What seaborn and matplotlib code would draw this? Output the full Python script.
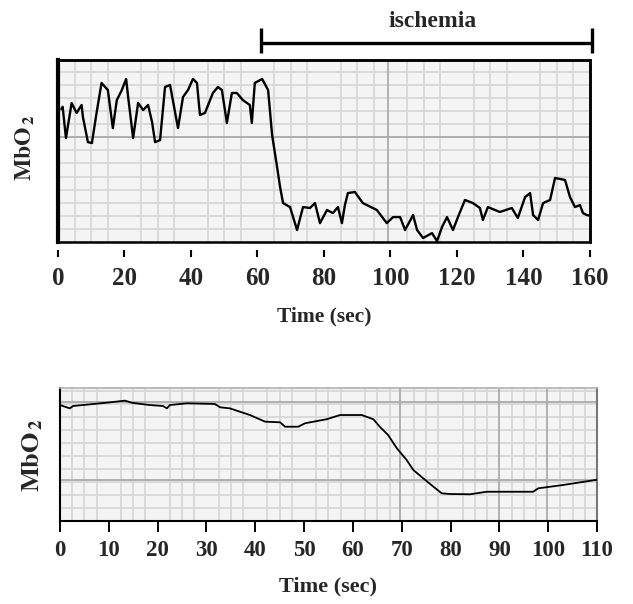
import numpy as np
import pandas as pd
import matplotlib
matplotlib.use('Agg')
import matplotlib.pyplot as plt
from matplotlib.ticker import MultipleLocator
from matplotlib.patches import Rectangle
import seaborn as sns

# top trace: MbO2 during ischemia (arbitrary units, 0-100)
top_time = [1.0, 1.4, 2.4, 4.1, 5.6, 7.1, 7.5, 9.0, 10.2, 11.6, 13.1, 15.0, 16.5, 17.7,
            19.2, 20.5, 21.1, 22.6, 24.1, 25.6, 27.1, 28.3, 29.2, 30.7, 32.2, 33.7, 36.1,
            37.6, 39.1, 40.6, 41.8, 42.7, 44.2, 46.6, 48.1, 49.3, 50.8, 52.3, 53.8, 55.6,
            57.7, 58.3, 59.2, 61.4, 63.2, 64.4, 65.9, 66.8, 67.7, 69.8, 71.9, 73.7, 75.8,
            77.3, 78.8, 80.9, 82.7, 84.2, 85.4, 86.3, 87.2, 89.3, 91.7, 95.9, 98.9, 100.8,
            102.9, 104.4, 106.8, 108.0, 109.8, 112.5, 114.0, 115.5, 117.0, 118.8, 120.3,
            122.4, 124.8, 126.9, 127.8, 129.3, 132.9, 136.5, 138.3, 140.5, 142.0, 142.9,
            144.4, 145.9, 148.0, 149.5, 152.5, 154.0, 155.5, 157.0, 157.9, 159.1, 160.0]
top_mbo2 = [73, 74.3, 57.1, 76.4, 70.9, 75.3, 68.7, 54.9, 54.4, 70.9, 87.4, 83.5, 62.6, 78.0,
            83.5, 89.6, 79.7, 57.1, 76.4, 72.5, 75.3, 65.9, 54.9, 56.0, 85.2, 86.3, 62.6,
            79.7, 83.5, 89.6, 87.4, 69.8, 70.9, 81.9, 85.2, 83.5, 65.4, 81.9, 81.9, 78.0,
            75.3, 65.4, 87.4, 89.6, 83.5, 58.8, 41.2, 30.2, 21.4, 19.2, 6.6, 19.2, 18.7,
            21.4, 10.4, 17.6, 15.9, 19.2, 10.4, 20.3, 26.9, 27.5, 21.4, 17.6, 10.4, 13.7,
            13.7, 6.6, 14.8, 6.6, 2.2, 4.9, 0.5, 8.2, 13.7, 6.6, 13.7,
            23.1, 21.4, 18.7, 12.1, 19.2, 16.5, 18.7, 13.2, 24.7, 26.9, 14.8,
            12.1, 21.4, 23.1, 35.2, 34.1, 24.7, 19.2, 20.3, 15.9, 14.8, 14.5]

# bottom trace
bot_time = [0, 2.0, 2.7, 6.1, 10.2, 13.3, 14.7, 18.4, 21.1, 21.9, 22.5, 26.0, 31.7, 32.8,
            34.8, 38.9, 42.0, 45.1, 46.1, 48.8, 50.2, 54.6, 57.4, 61.8, 64.2, 65.5, 67.2,
            69.0, 71.0, 72.4, 74.4, 76.5, 78.2, 79.9, 84.0, 87.4, 96.9, 98.0, 103.1, 109.6, 110]
bot_mbo2 = [87.2, 84.7, 86.5, 87.7, 89.2, 90.5, 88.9, 87.2, 86.5, 84.7, 87.2, 88.5, 88.0, 85.5,
            84.7, 79.7, 74.7, 74.2, 70.9, 70.9, 73.5, 76.5, 79.7, 79.7, 76.5, 70.9, 64.7,
            54.7, 45.9, 38.3, 32.1, 25.8, 20.8, 20.3, 20.1, 22.0, 22.0, 24.6, 27.1, 30.8, 31.0]

top_ticks = [0, 20, 40, 60, 80, 100, 120, 140, 160]
bot_ticks = [0, 10, 20, 30, 40, 50, 60, 70, 80, 90, 100, 110]
ischemia_start, ischemia_end = 61, 160.5

df_top = pd.DataFrame({'time': top_time, 'mbo2': top_mbo2})
df_bot = pd.DataFrame({'time': bot_time, 'mbo2': bot_mbo2})

sns.set_style('white')
plt.rcParams['font.family'] = ['Liberation Serif', 'DejaVu Serif']
plt.rcParams['font.weight'] = 'bold'
plt.rcParams['mathtext.fontset'] = 'stix'

fig = plt.figure(figsize=(6.33, 6.04), dpi=100)
ax1 = fig.add_axes([0.0916, 0.5993, 0.8404, 0.3013])
ax2 = fig.add_axes([0.0948, 0.1374, 0.8483, 0.2202])

paper = '#f4f4f4'
minor_c = '#d8d8d8'
major_c = '#ababab'

for ax in (ax1, ax2):
    ax.set_facecolor(paper)
    ax.set_yticks([])
    ax.set_ylim(0, 100)
    ax.tick_params(axis='y', which='both', length=0, labelleft=False)
    ax.tick_params(axis='x', which='minor', length=0)
    ax.grid(which='minor', color=minor_c, lw=1.3)
    ax.set_xlabel('')
    ax.set_ylabel('')

# --- top panel ---
sns.lineplot(data=df_top, x='time', y='mbo2', ax=ax1, color='black', lw=1.7, zorder=4)
ax1.set_xlim(0, 160)
ax1.set_ylim(0, 100)
ax1.set_xticks(top_ticks)
ax1.xaxis.set_minor_locator(MultipleLocator(5))
ax1.yaxis.set_minor_locator(MultipleLocator(7.2))
ax1.axhline(57.7, color=major_c, lw=1.3, zorder=1)
ax1.axvline(99.2, color=major_c, lw=1.3, zorder=1)
ax1.spines['bottom'].set_position(('outward', 6))
ax1.spines['bottom'].set_color('none')
for s in ('top', 'right'):
    ax1.spines[s].set_color('black')
    ax1.spines[s].set_linewidth(1.8)
ax1.spines['left'].set_color('black')
ax1.spines['left'].set_linewidth(3)
ax1.add_patch(Rectangle((0, 0), 1, 1, transform=ax1.transAxes, fill=False,
                        ec='black', lw=1.8, clip_on=False, zorder=5))
ax1.tick_params(axis='x', which='major', bottom=True, direction='out', length=5, width=1.5,
                color='black', pad=7, labelsize=18)
ax1.set_xlabel('Time (sec)', fontsize=15.5, fontweight='bold', labelpad=12)

# ischemia bar
ax1.hlines(109.3, ischemia_start, ischemia_end, color='black', lw=2.4, clip_on=False)
ax1.vlines([ischemia_start, ischemia_end], 104.0, 117.5, color='black', lw=2.4, clip_on=False)
ax1.text((ischemia_start + ischemia_end) / 2 + 2, 115.5, 'ischemia', ha='center', va='bottom',
         fontsize=17, fontweight='bold')

# --- bottom panel ---
sns.lineplot(data=df_bot, x='time', y='mbo2', ax=ax2, color='black', lw=1.3, zorder=4)
ax2.set_xlim(0, 110)
ax2.set_ylim(0, 100)
ax2.set_xticks(bot_ticks)
ax2.xaxis.set_minor_locator(MultipleLocator(2.5))
ax2.yaxis.set_minor_locator(MultipleLocator(9.8))
ax2.axhline(89.7, color=major_c, lw=1.3, zorder=1)
ax2.axhline(30.8, color=major_c, lw=1.3, zorder=1)
for xv in (69.6, 90.0, 99.8):
    ax2.axvline(xv, color=major_c, lw=1.3, zorder=1)
ax2.spines['left'].set_color('black')
ax2.spines['left'].set_linewidth(1.5)
ax2.spines['bottom'].set_color('black')
ax2.spines['bottom'].set_linewidth(1.5)
ax2.spines['top'].set_color('#b0b0b0')
ax2.spines['top'].set_linewidth(1.2)
ax2.spines['right'].set_color('#777777')
ax2.spines['right'].set_linewidth(1.5)
ax2.tick_params(axis='x', which='major', bottom=True, direction='out', length=8, width=1.4,
                color='black', pad=6, labelsize=16.5)
ax2.set_xlabel('Time (sec)', fontsize=16, fontweight='bold', labelpad=11)

# y labels
fig.text(25 / 633, 1 - 148 / 604, r'$\mathbf{MbO}_{\,\mathbf{2}}$', rotation=90,
         ha='center', va='center', fontsize=17)
fig.text(33 / 633, 1 - 455 / 604, r'$\mathbf{MbO}_{\,\mathbf{2}}$', rotation=90,
         ha='center', va='center', fontsize=19)

plt.savefig('out.png', dpi=100)
